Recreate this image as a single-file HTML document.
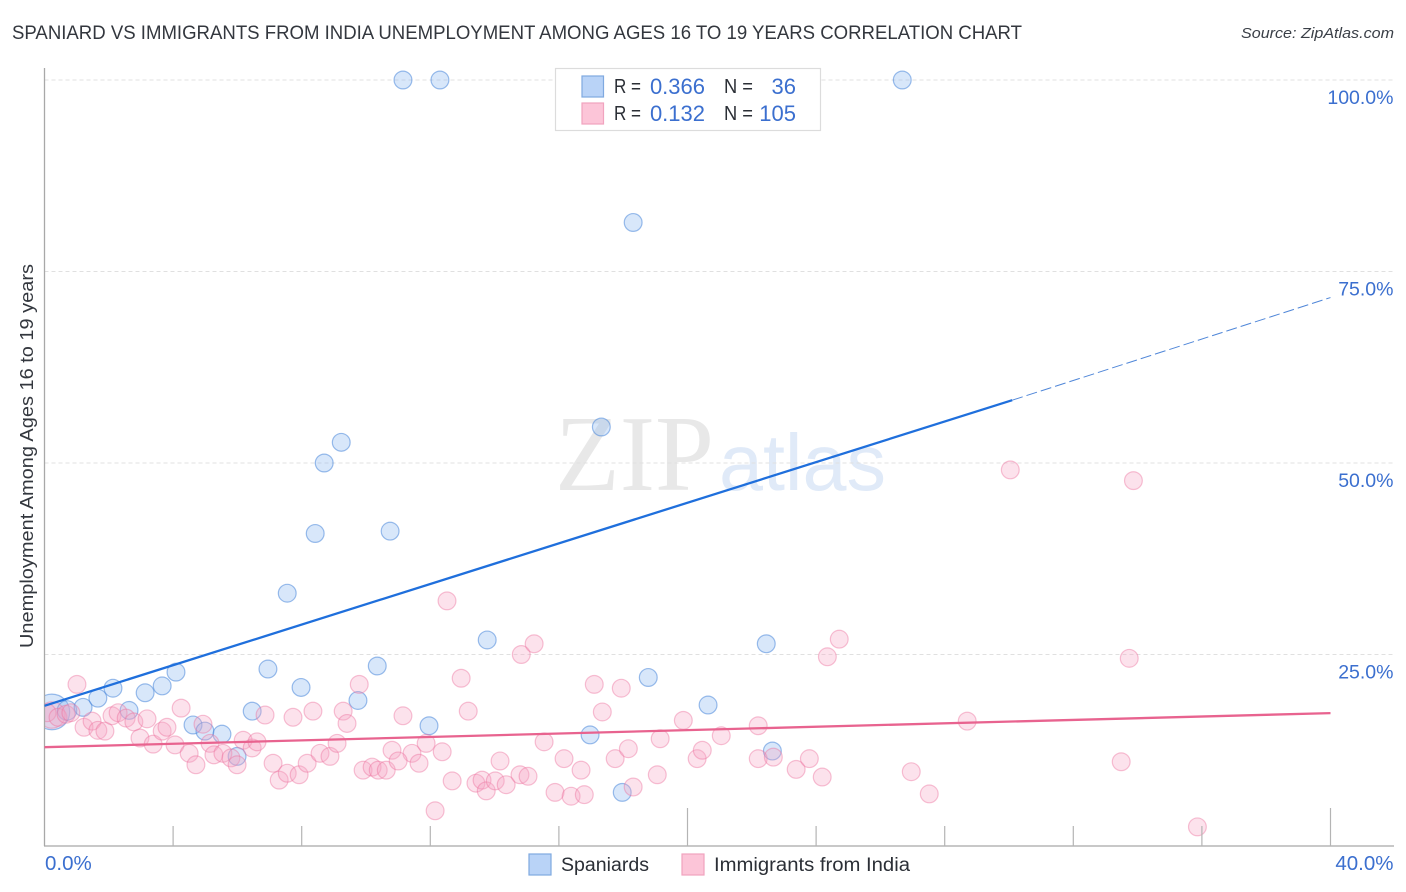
<!DOCTYPE html>
<html lang="en">
<head>
<meta charset="utf-8">
<title>Spaniard vs Immigrants from India Unemployment Correlation Chart</title>
<style>
html,body{margin:0;padding:0;background:#fff;width:1406px;height:892px;overflow:hidden}
svg{display:block;font-family:"Liberation Sans",sans-serif}
</style>
</head>
<body>
<svg id="chart" width="1406" height="892" viewBox="0 0 1406 892">
  <defs>
    <clipPath id="plot-clip" clipPathUnits="userSpaceOnUse"><rect x="44.5" y="60" width="1350" height="786"/></clipPath>
  </defs>
  <text x="12" y="39" font-size="19" fill="#33373e" textLength="1010" lengthAdjust="spacingAndGlyphs">SPANIARD VS IMMIGRANTS FROM INDIA UNEMPLOYMENT AMONG AGES 16 TO 19 YEARS CORRELATION CHART</text>
  <text x="1241" y="38" font-size="15" font-style="italic" fill="#3a3f47" textLength="153" lengthAdjust="spacingAndGlyphs">Source: ZipAtlas.com</text>

  <text x="555" y="490" font-family="'Liberation Serif',serif" font-size="108" fill="#e8e8e8" textLength="159" lengthAdjust="spacingAndGlyphs">ZIP</text>
  <text x="719" y="490" font-size="80" fill="#e0eaf8" textLength="167" lengthAdjust="spacingAndGlyphs">atlas</text>

  <g id="grid"></g>
  <g id="points" clip-path="url(#plot-clip)"></g>
  <rect x="32" y="688" width="12" height="48" fill="#fff"/>
  <g id="axes"></g>
  <text transform="translate(33,648) rotate(-90)" font-size="18" fill="#33373e" textLength="384" lengthAdjust="spacingAndGlyphs">Unemployment Among Ages 16 to 19 years</text>
  <g id="trends" clip-path="url(#plot-clip)"></g>

  <g>
    <rect x="555.5" y="68.5" width="265" height="62" fill="#fff" stroke="#dcdcdc" stroke-width="1.2"/>
    <rect x="582" y="76" width="21.5" height="21" fill="#b9d3f7" stroke="#7fa9e0" stroke-width="1.2"/>
    <rect x="582" y="103" width="21.5" height="21" fill="#fcc5d8" stroke="#f1a3bf" stroke-width="1.2"/>
    <g font-size="20" fill="#2b2f36">
      <text x="614" y="93" textLength="27" lengthAdjust="spacingAndGlyphs">R =</text>
      <text x="724" y="93" textLength="29" lengthAdjust="spacingAndGlyphs">N =</text>
      <text x="614" y="120" textLength="27" lengthAdjust="spacingAndGlyphs">R =</text>
      <text x="724" y="120" textLength="29" lengthAdjust="spacingAndGlyphs">N =</text>
    </g>
    <g font-size="22" fill="#3b6fcf" text-anchor="end">
      <text x="705" y="94">0.366</text>
      <text x="796" y="94">36</text>
      <text x="705" y="121">0.132</text>
      <text x="796" y="121">105</text>
    </g>
  </g>

  <g>
    <rect x="529" y="854" width="22" height="21" fill="#b9d3f7" stroke="#7fa9e0" stroke-width="1.2"/>
    <text x="561" y="871" font-size="19" fill="#2b2f36" textLength="88" lengthAdjust="spacingAndGlyphs">Spaniards</text>
    <rect x="682" y="854" width="22" height="21" fill="#fcc5d8" stroke="#f1a3bf" stroke-width="1.2"/>
    <text x="714" y="871" font-size="19" fill="#2b2f36" textLength="196" lengthAdjust="spacingAndGlyphs">Immigrants from India</text>
  </g>
</svg>
<script>
const yTickValues = [25, 50, 75, 100];
const yTickLabels = ['25.0%', '50.0%', '75.0%', '100.0%'];
const xTickValues = [4, 8, 12, 16, 20, 24, 28, 32, 36, 40];
const xEndLabels = ['0.0%', '40.0%'];

const spaniardX = [0.23,0.7,1.2,1.66,2.13,2.63,3.13,3.66,4.09,4.62,4.99,5.52,5.99,6.46,6.95,7.55,7.98,8.42,8.7,9.23,9.75,10.35,10.75,11.15,11.96,12.3,13.77,16.97,17.32,17.97,18.31,18.78,20.64,22.45,22.64,26.68];
const spaniardY = [17.5,17.7,18.1,19.3,20.6,17.7,20.0,20.9,22.7,15.8,15.0,14.6,11.7,17.6,23.1,33.0,20.7,40.8,50.0,52.7,19.0,23.5,41.1,100,15.7,100,26.9,14.5,54.7,7.0,81.4,22.0,18.4,26.4,12.4,100];
const spaniardWeight = [4,1.2,1,1,1,1,1,1,1,1,1,1,1,1,1,1,1,1,1,1,1,1,1,1,1,1,1,1,1,1,1,1,1,1,1,1];

const indiaX = [0.23,0.08,0.42,0.67,0.82,1.01,1.23,1.48,1.66,1.88,2.1,2.29,2.54,2.78,3.19,2.97,3.38,3.66,3.81,4.06,4.25,4.5,4.71,4.93,5.15,5.27,5.55,5.8,5.99,6.18,6.46,6.61,6.86,7.11,7.3,7.55,7.73,7.92,8.17,8.35,8.57,8.88,9.1,9.29,9.41,9.79,9.91,10.19,10.38,10.63,10.81,11.43,11.0,11.65,11.15,11.87,12.37,12.52,12.68,12.96,12.15,13.18,13.42,13.61,13.74,14.02,14.36,14.17,14.79,15.04,14.83,15.23,15.54,15.88,16.16,16.38,16.69,16.79,17.1,17.35,17.75,17.94,18.16,18.31,19.06,19.15,19.87,20.3,20.46,21.05,22.2,22.2,22.67,23.38,23.79,24.19,24.35,24.72,26.96,27.52,28.7,30.04,33.49,33.74,33.87,35.86];
const indiaY = [17.1,17.4,16.8,17.2,17.4,21.1,15.5,16.3,15.1,15.0,17.0,17.4,16.7,16.2,16.6,14.1,13.3,15.0,15.5,13.2,18.0,12.1,10.6,15.9,13.4,11.9,12.1,11.5,10.6,13.8,12.8,13.6,17.1,10.8,8.6,9.5,16.8,9.3,10.8,17.6,12.1,11.7,13.4,17.6,16.0,21.1,9.9,10.3,9.9,9.9,12.5,12.1,11.1,10.8,17.0,13.4,12.3,32.0,8.5,21.9,4.6,17.6,8.2,8.6,7.2,8.5,8.0,11.1,9.3,9.1,25.0,26.4,13.6,7.0,11.4,6.5,9.9,6.7,21.1,17.5,11.4,20.6,12.7,7.7,9.3,14.0,16.4,11.4,12.5,14.4,15.7,11.4,11.6,10.0,11.4,9.0,24.7,27.0,9.7,6.8,16.3,49.1,11.0,24.5,47.7,2.5];
const indiaWeight = [2.2,1,1,1,1];

const spaniardTrendX = [0, 30.1, 40];
const spaniardTrendY = [18.3, 58.2, 71.6];
const indiaTrendX = [0, 40];
const indiaTrendY = [12.9, 17.35];

const NS = 'http://www.w3.org/2000/svg';
function xScale(v) { return 44.5 + v * 32.15; }
function yScale(v) { return 846 - v * 7.66; }
function make(parent, tag, attrs) {
  const el = document.createElementNS(NS, tag);
  for (const k in attrs) el.setAttribute(k, attrs[k]);
  parent.appendChild(el);
  return el;
}

const grid = document.getElementById('grid');
const axes = document.getElementById('axes');
const pointsG = document.getElementById('points');
const trends = document.getElementById('trends');

yTickValues.forEach(function (v, i) {
  const line = make(grid, 'line', {x1: 44.5, x2: 1394, y1: yScale(v), y2: yScale(v), stroke: '#e0e0e0', 'stroke-width': 1, 'stroke-dasharray': '4 3'});
  
  
  const label = make(axes, 'text', {x: 1393.5, y: yScale(v) + 24, 'text-anchor': 'end', 'font-size': 19.5, fill: '#3b6fcf'});
  label.textContent = yTickLabels[i];
  
  
});

const yAxis = make(axes, 'line', {x1: 44.5, x2: 44.5, y1: 68, y2: 846, stroke: '#a8a8a8', 'stroke-width': 1.3});


const xAxis = make(axes, 'line', {x1: 44, x2: 1394, y1: 846, y2: 846, stroke: '#a8a8a8', 'stroke-width': 1.3});



xTickValues.forEach(function (v) {
  const tall = v % 20 === 0;
  const tick = make(axes, 'line', {x1: xScale(v), x2: xScale(v), y1: tall ? 808 : 826, y2: 846, stroke: '#b4b4b4', 'stroke-width': 1.2});
  
  
});

const xStart = make(axes, 'text', {x: 45, y: 870, 'font-size': 20.5, fill: '#3b6fcf'});
xStart.textContent = xEndLabels[0];


const xEnd = make(axes, 'text', {x: 1393.5, y: 870, 'text-anchor': 'end', 'font-size': 20.5, fill: '#3b6fcf'});
xEnd.textContent = xEndLabels[1];



function radius(w) { return 8.9 * Math.sqrt(w || 1); }

spaniardX.forEach(function (v, i) {
  const c = make(pointsG, 'circle', {cx: xScale(v), cy: yScale(spaniardY[i]), r: radius(spaniardWeight[i]), fill: 'rgba(140,185,240,0.34)', stroke: 'rgba(60,125,215,0.5)', 'stroke-width': 1.2});
  
  
});
indiaX.forEach(function (v, i) {
  const c = make(pointsG, 'circle', {cx: xScale(v), cy: yScale(indiaY[i]), r: radius(indiaWeight[i]), fill: 'rgba(247,165,195,0.32)', stroke: 'rgba(235,110,155,0.42)', 'stroke-width': 1.2});
  
  
});

const blueSolid = make(trends, 'line', {x1: xScale(spaniardTrendX[0]), y1: yScale(spaniardTrendY[0]), x2: xScale(spaniardTrendX[1]), y2: yScale(spaniardTrendY[1]), stroke: '#1f6fdc', 'stroke-width': 2.3});


const blueDash = make(trends, 'line', {x1: xScale(spaniardTrendX[1]), y1: yScale(spaniardTrendY[1]), x2: xScale(spaniardTrendX[2]), y2: yScale(spaniardTrendY[2]), stroke: '#4f86d8', 'stroke-width': 1, 'stroke-dasharray': '11 4'});


const pinkLine = make(trends, 'line', {x1: xScale(indiaTrendX[0]), y1: yScale(indiaTrendY[0]), x2: xScale(indiaTrendX[1]), y2: yScale(indiaTrendY[1]), stroke: '#e8638f', 'stroke-width': 2.3});


</script>
</body>
</html>
